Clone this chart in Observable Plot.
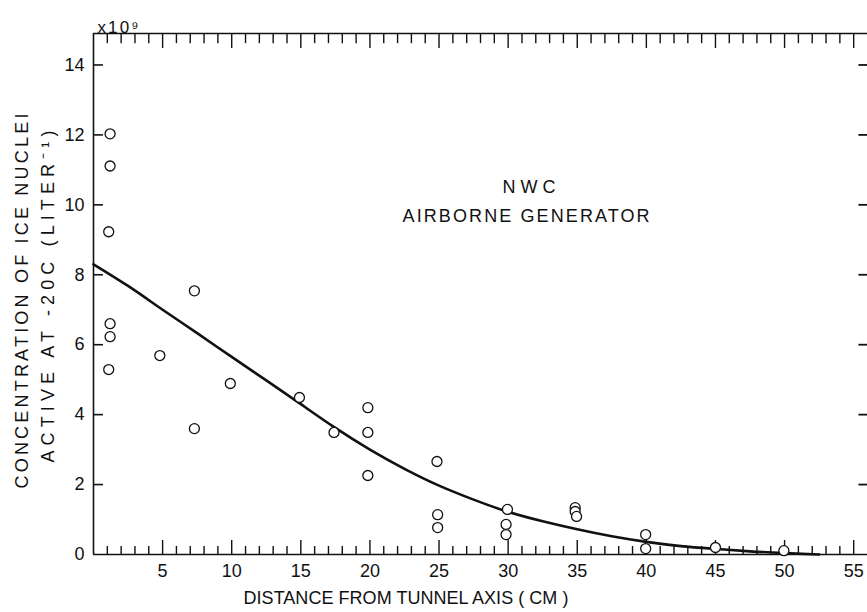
<!DOCTYPE html>
<html>
<head>
<meta charset="utf-8">
<script src="https://cdn.jsdelivr.net/npm/d3@7"></script>
<script src="https://cdn.jsdelivr.net/npm/@observablehq/plot@0.6"></script>
<style>
  html, body { margin: 0; padding: 0; background: #fff; }
  #chart svg { display: block; }
</style>
</head>
<body>
<div id="chart"></div>
<script>
// Measured data points: distance from tunnel axis (cm) and IN concentration (x10^9 per liter)
const distance = [1.2, 1.2, 1.1, 1.2, 1.2, 1.1,
                  4.8, 7.3, 7.3, 9.9, 14.9, 17.4,
                  19.85, 19.85, 19.85,
                  24.85, 24.9, 24.9,
                  29.95, 29.85, 29.85,
                  34.85, 34.85, 34.95,
                  39.95, 39.95,
                  45.0, 49.95];
const concentration = [12.03, 11.11, 9.23, 6.6, 6.23, 5.29,
                       5.69, 7.54, 3.6, 4.89, 4.49, 3.49,
                       4.2, 3.49, 2.26,
                       2.66, 1.14, 0.77,
                       1.29, 0.86, 0.57,
                       1.34, 1.23, 1.09,
                       0.57, 0.17,
                       0.2, 0.11];

// Fitted curve
const curveX = [0, 2.5, 5, 7.5, 10, 12.5, 15, 17.5, 20, 22.5, 25, 27.5, 30, 32.5, 35, 37.5, 40, 42.5, 45, 47.5, 50, 52.5];
const curveY = [8.3, 7.68, 7.0, 6.33, 5.65, 4.98, 4.3, 3.62, 3.0, 2.45, 1.97, 1.57, 1.22, 0.95, 0.72, 0.52, 0.36, 0.24, 0.16, 0.09, 0.04, 0.0];

// Tick values and labels
const xTickLabels = [5, 10, 15, 20, 25, 30, 35, 40, 45, 50, 55];
const xTicks = d3.range(1, 56);
const yTickLabels = [0, 2, 4, 6, 8, 10, 12, 14];
const yTicks = [2, 4, 6, 8, 10, 12, 14];

const xTitle = "DISTANCE FROM TUNNEL AXIS ( CM )";
const yTitle1 = "CONCENTRATION OF ICE NUCLEI";
const yTitle2 = "ACTIVE AT -20C (LITER\u207B\u00B9)";
const multiplier = "x10\u2079";
const annotation = ["NWC", "AIRBORNE GENERATOR"];

const points = distance.map((d, i) => ({x: d, y: concentration[i]}));
const curve = curveX.map((d, i) => ({x: d, y: curveY[i]}));

const YMAX = 14.9, XMAX = 56;
const ink = "#111";

const chart = Plot.plot({
  width: 867,
  height: 612,
  marginLeft: 93,
  marginRight: 0,
  marginTop: 33,
  marginBottom: 58,
  x: {domain: [0, XMAX], axis: null},
  y: {domain: [0, YMAX], axis: null},
  style: {fontFamily: "'Liberation Sans', Arial, sans-serif", fontSize: "18px", color: ink, background: "#fff"},
  marks: [
    // frame lines
    Plot.ruleX([0], {stroke: ink, strokeWidth: 1.6}),
    Plot.ruleY([0], {stroke: ink, strokeWidth: 1.6}),
    Plot.ruleY([YMAX], {stroke: ink, strokeWidth: 1.6}),
    // bottom ticks (inward)
    Plot.ruleX(xTicks, {x: d => d, y1: 0, y2: d => d % 5 === 0 ? 0.4 : 0.23, stroke: ink, strokeWidth: 1.4}),
    // top ticks (inward)
    Plot.ruleX(xTicks, {x: d => d, y1: YMAX, y2: d => YMAX - (d % 5 === 0 ? 0.43 : 0.29), stroke: ink, strokeWidth: 1.4}),
    // left ticks
    Plot.ruleY(yTicks, {y: d => d, x1: 0, x2: 0.72, stroke: ink, strokeWidth: 1.6}),
    // right ticks
    Plot.ruleY(yTicks, {y: d => d, x1: XMAX, x2: XMAX - 0.62, stroke: ink, strokeWidth: 1.8}),
    // tick labels
    Plot.text(xTickLabels, {x: d => d, y: 0, dy: 17, text: d => String(d), fill: ink, fontSize: 18}),
    Plot.text(yTickLabels, {x: 0, y: d => d, dx: -9, textAnchor: "end", text: d => String(d), fill: ink, fontSize: 18}),
    // fitted curve
    Plot.line(curve, {x: "x", y: "y", curve: "natural", stroke: ink, strokeWidth: 2.6}),
    // observations
    Plot.dot(points, {x: "x", y: "y", r: 5, stroke: ink, strokeWidth: 1.3, fill: "#fff"}),
    // annotation (left-anchored so added letter spacing grows rightwards)
    Plot.text(annotation, {x: [29.6, 22.36], y: [10.5, 9.66], textAnchor: "start", text: d => d, fill: ink, fontSize: 18}),
    // axis titles
    Plot.text([xTitle], {frameAnchor: "bottom-left", dx: 150, dy: 49, textAnchor: "start", text: d => d, fill: ink, fontSize: 18}),
    Plot.text([yTitle1], {frameAnchor: "bottom-left", dx: -66, dy: -66, rotate: -90, textAnchor: "start", text: d => d, fill: ink, fontSize: 18}),
    Plot.text([yTitle2], {frameAnchor: "bottom-left", dx: -40, dy: -92, rotate: -90, textAnchor: "start", text: d => d, fill: ink, fontSize: 18}),
    Plot.text([multiplier], {frameAnchor: "top-left", dx: 4, dy: -13, textAnchor: "start", text: d => d, fill: ink, fontSize: 17})
  ]
});

document.getElementById("chart").appendChild(chart);

// Widen the hand-lettered texts to the lengths measured on the reference
const targetWidths = new Map([
  [xTitle, 325], [yTitle1, 375], [yTitle2, 332],
  ["NWC", 53], ["AIRBORNE GENERATOR", 247], [multiplier, 41]
]);
d3.select(chart).selectAll("text").each(function() {
  const t = this.textContent;
  if (!targetWidths.has(t)) return;
  const len = this.getComputedTextLength();
  const n = [...t].length;
  const sp = (targetWidths.get(t) - len) / Math.max(1, n - 1);
  if (sp > 0) this.style.letterSpacing = sp.toFixed(2) + "px";
});
</script>
</body>
</html>
